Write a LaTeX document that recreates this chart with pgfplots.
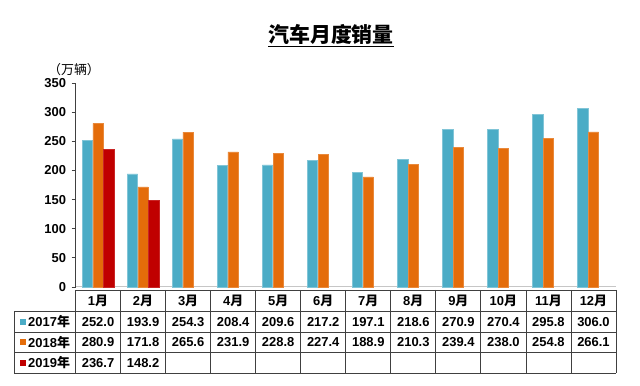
\documentclass[border=0pt]{standalone}
\usepackage{fontspec}
\setmainfont{Liberation Sans}
\newfontfamily\cjk{Noto Sans CJK SC}
\usepackage{pgfplots}
\pgfplotsset{compat=1.18}
\definecolor{cA}{HTML}{4BACC6}
\definecolor{cB}{HTML}{E46C0A}
\definecolor{cC}{HTML}{C00000}
\definecolor{tline}{HTML}{404040}
\newcommand{\tf}{\bfseries\fontsize{13}{15}\selectfont}
\newcommand{\yue}{{\cjk\bfseries 月}}
\newcommand{\nian}{{\cjk\bfseries 年}}
\begin{document}
\begin{tikzpicture}
\useasboundingbox (0,0) rectangle (640bp,386bp);
\begin{axis}[
  at={(75.5bp,99bp)}, anchor=south west,
  scale only axis, width=540.5bp, height=204bp,
  xmin=-0.5, xmax=11.5, ymin=0, ymax=350,
  ybar, bar width=10.3bp,
  axis x line*=bottom, axis y line*=left,
  x axis line style={draw=gray!45, line width=1bp},
  y axis line style={draw=darkgray, line width=0.8bp},
  xtick=\empty,
  ytick={0,50,...,350},
  tick align=outside, major tick length=4bp,
  ytick style={draw=darkgray, line width=0.8bp},
  yticklabel style={font=\tf, xshift=-2bp},
  /pgf/number format/assume math mode=true,
  clip=false,
]
\addplot[fill=cA, draw=cA!70!white, line width=0.5bp, bar shift=-10.7bp] coordinates {
 (0,252.0) (1,193.9) (2,254.3) (3,208.4) (4,209.6) (5,217.2)
 (6,197.1) (7,218.6) (8,270.9) (9,270.4) (10,295.8) (11,306.0)};
\addplot[fill=cB, draw=cB!80!white, line width=0.5bp, bar shift=0bp] coordinates {
 (0,280.9) (1,171.8) (2,265.6) (3,231.9) (4,228.8) (5,227.4)
 (6,188.9) (7,210.3) (8,239.4) (9,238.0) (10,254.8) (11,266.1)};
\addplot[fill=cC, draw=cC!85!white, line width=0.5bp, bar shift=10.7bp] coordinates {
 (0,236.7) (1,148.2)};
\end{axis}
% title and unit
\node[anchor=base, inner sep=0, font=\cjk\bfseries\fontsize{21}{25}\selectfont] at (331bp,343bp) {\underline{汽车月度销量}};
\node[inner sep=0, font=\cjk\fontsize{13}{15}\selectfont] at (74bp,316bp) {（万辆）};
% data table grid
\begin{scope}[draw=tline, line width=0.8bp]
\draw (75.5bp,96bp) -- (616bp,96bp);
\foreach \yy in {74.5,54,33.5,13} \draw (14bp,\yy bp) -- (616bp,\yy bp);
\draw (14bp,74.5bp) -- (14bp,13bp);
\foreach \k in {0,...,12} \draw ({75.5bp+\k*45.04bp},96bp) -- ({75.5bp+\k*45.04bp},13bp);
\end{scope}
% month headers
\foreach \i in {1,...,12}
  \node[font=\tf, inner sep=0] at ({75.5bp+(\i-0.5)*45.04bp},85.3bp) {\i\yue};
% legend column
\fill[cA] (20bp,61.2bp) rectangle (26bp,67.2bp);
\fill[cB] (20bp,40.7bp) rectangle (26bp,46.7bp);
\fill[cC] (20bp,20.2bp) rectangle (26bp,26.2bp);
\node[anchor=west, font=\tf, inner sep=0] at (28bp,64.25bp) {2017\nian};
\node[anchor=west, font=\tf, inner sep=0] at (28bp,43.75bp) {2018\nian};
\node[anchor=west, font=\tf, inner sep=0] at (28bp,23.25bp) {2019\nian};
% table values
\foreach \v [count=\i from 0] in {252.0,193.9,254.3,208.4,209.6,217.2,197.1,218.6,270.9,270.4,295.8,306.0}
  \node[font=\tf, inner sep=0] at ({75.5bp+(\i+0.5)*45.04bp},64.25bp) {\v};
\foreach \v [count=\i from 0] in {280.9,171.8,265.6,231.9,228.8,227.4,188.9,210.3,239.4,238.0,254.8,266.1}
  \node[font=\tf, inner sep=0] at ({75.5bp+(\i+0.5)*45.04bp},43.75bp) {\v};
\foreach \v [count=\i from 0] in {236.7,148.2}
  \node[font=\tf, inner sep=0] at ({75.5bp+(\i+0.5)*45.04bp},23.25bp) {\v};
\end{tikzpicture}
\end{document}
